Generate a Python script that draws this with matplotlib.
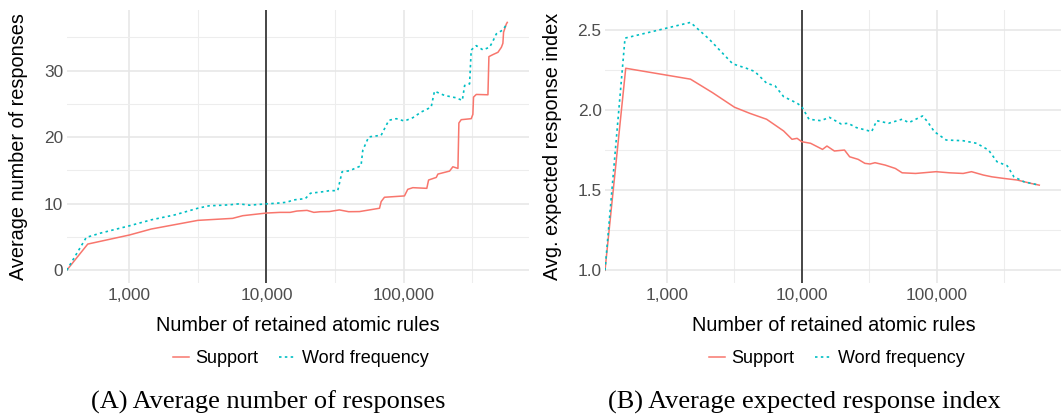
import numpy as np
import matplotlib
matplotlib.use("Agg")
import matplotlib.pyplot as plt
from matplotlib.ticker import FixedLocator, FuncFormatter, MultipleLocator, FormatStrFormatter

# -----------------------------
# DATA
# -----------------------------
# panel A: average number of responses
a_support_x = [349, 497, 1000, 1445, 3162, 5662, 6714, 10000, 12560, 14890, 16670,
               19770, 22180, 24830, 28770, 34040, 39810, 47750, 66830, 68710, 72610,
               101600, 107400, 117000, 147900, 152400, 173400, 178200, 216800, 229100,
               249500, 253500, 263600, 311900, 320600, 324300, 339600, 413000, 419800,
               448700, 488700, 517600, 530900, 537000, 562300, 571500]
a_support_y = [0, 3.94, 5.3, 6.2, 7.5, 7.8, 8.2, 8.6, 8.7, 8.7, 8.9,
               9.0, 8.7, 8.8, 8.82, 9.07, 8.8, 8.82, 9.32, 10.32, 10.97,
               11.17, 12.16, 12.41, 12.31, 13.56, 13.95, 14.45, 14.9, 15.55,
               15.3, 22.12, 22.62, 22.77, 23.42, 26.01, 26.41, 26.36, 32.09,
               32.39, 32.74, 33.49, 34.09, 35.74, 36.98, 37.23]

a_wordfreq_x = [349, 485, 617, 1000, 1445, 2153, 3170, 3802, 5346, 6310, 7534, 10000,
                11860, 14060, 15780, 19230, 20940, 26300, 28770, 33110, 35650, 40360,
                48980, 50470, 55720, 68710, 78160, 88510, 101600, 117000, 134600,
                159200, 168300, 199100, 242700, 268500, 279300, 303400, 311900,
                339600, 379300, 424600, 448700, 475300, 530900, 571500]
a_wordfreq_y = [0, 4.94, 5.59, 6.68, 7.58, 8.33, 9.33, 9.68, 9.83, 9.98, 9.78, 9.98,
                10.07, 10.22, 10.57, 10.77, 11.57, 11.82, 11.96, 11.96, 14.8, 14.95,
                15.7, 18.04, 20.03, 20.28, 22.53, 22.77, 22.42, 22.92, 23.77,
                24.51, 26.91, 26.26, 25.9, 25.51, 27.76, 28.0, 33.09,
                33.74, 33.1, 33.5, 34.4, 35.5, 36.1, 37.1]

# panel B: average expected response index
b_support_x = [349, 497, 1500, 2183, 3177, 4121, 5495, 7345, 8472, 9247, 10000, 11640,
               14260, 15380, 17460, 20750, 22650, 26180, 29380, 32060, 34910, 41590,
               49430, 55460, 69820, 98850, 124500, 157000, 181100, 221800, 256400,
               314100, 395400, 498900, 575400]
b_support_y = [1.0, 2.26, 2.192, 2.108, 2.017, 1.979, 1.942, 1.869, 1.817, 1.823, 1.802, 1.792,
               1.754, 1.775, 1.744, 1.75, 1.708, 1.692, 1.667, 1.663, 1.671, 1.656,
               1.635, 1.608, 1.604, 1.615, 1.608, 1.604, 1.615, 1.594, 1.583,
               1.573, 1.563, 1.542, 1.531]

b_wordfreq_x = [349, 491, 1500, 2061, 3083, 3890, 4487, 5495, 6353, 7345, 9247, 10000,
                11320, 13870, 16030, 19590, 22030, 25410, 32960, 35970, 44060, 55460,
                62230, 78520, 85510, 95940, 117500, 157000, 197700, 242100, 279900,
                332700, 373300, 443600, 575400]
b_wordfreq_y = [1.0, 2.448, 2.546, 2.442, 2.2875, 2.26, 2.24, 2.167, 2.15, 2.083, 2.042, 2.021,
                1.942, 1.933, 1.954, 1.9125, 1.917, 1.89, 1.865, 1.933, 1.917, 1.942,
                1.921, 1.9625, 1.927, 1.865, 1.8125, 1.808, 1.792, 1.75, 1.677,
                1.652, 1.583, 1.552, 1.531]

x_major = [1000, 10000, 100000]
x_minor = [3162, 31623, 316228]
cutoff = 10000

series_labels = ["Support", "Word frequency"]
captions = ["(A) Average number of responses", "(B) Average expected response index"]
ylabels = ["Average number of responses", "Avg. expected response index"]
xlabel = "Number of retained atomic rules"

# -----------------------------
# STYLE
# -----------------------------
RED = "#F8766D"
CYAN = "#00BFC4"
plt.rcParams["font.family"] = ["Liberation Sans", "DejaVu Sans"]

W, H = 1063, 419
fig = plt.figure(figsize=(W / 100, H / 100), dpi=100)

# panel boxes in pixels: left, right, top, bottom
boxes = [(66.7, 529.3, 10, 282.7), (605, 1061, 10, 282.7)]
ylabel_x = [19, 552.5]
legend_cx = [300.8, 836.7]
xlabel_cx = [298, 834]
caption_cx = [268.7, 804]

panels = [
    (a_support_x, a_support_y, a_wordfreq_x, a_wordfreq_y, 10, 5, "%d"),
    (b_support_x, b_support_y, b_wordfreq_x, b_wordfreq_y, 0.5, 0.25, "%.1f"),
]

for i, (sx, sy, wx, wy, ymaj, ymin, yfmt) in enumerate(panels):
    l, r, t, b = boxes[i]
    ax = fig.add_axes([l / W, 1 - b / H, (r - l) / W, (b - t) / H])

    ax.plot(sx, sy, color=RED, lw=1.1, label=series_labels[0], zorder=3)
    ax.plot(wx, wy, color=CYAN, lw=1.2, linestyle=(0, (1.5, 2)),
            label=series_labels[1], zorder=3)
    ax.axvline(cutoff, color="#1a1a1a", lw=1.1, zorder=2)

    ax.set_xscale("log")
    lo = min(min(sx), min(wx))
    hi = max(max(sx), max(wx))
    span = np.log10(hi) - np.log10(lo)
    ax.set_xlim(lo, 10 ** (np.log10(hi) + 0.05 * span))
    ax.margins(y=0.05)

    ax.xaxis.set_major_locator(FixedLocator(x_major))
    ax.xaxis.set_minor_locator(FixedLocator(x_minor))
    ax.xaxis.set_major_formatter(FuncFormatter(lambda v, _: f"{int(round(v)):,}"))
    ax.xaxis.set_minor_formatter(FuncFormatter(lambda v, _: ""))
    ax.yaxis.set_major_locator(MultipleLocator(ymaj))
    ax.yaxis.set_minor_locator(MultipleLocator(ymin))
    ax.yaxis.set_major_formatter(FormatStrFormatter(yfmt))

    ax.grid(which="major", color="#E6E6E6", lw=1.1, zorder=0)
    ax.grid(which="minor", color="#EDEDED", lw=0.8, zorder=0)
    ax.set_axisbelow(True)
    for s in ax.spines.values():
        s.set_visible(False)
    ax.tick_params(which="both", length=0, labelsize=12.4, labelcolor="#4D4D4D")
    ax.tick_params(axis="x", pad=3.5)
    ax.tick_params(axis="y", pad=2.5)

    pw, ph = r - l, b - t
    ax.set_xlabel(xlabel, fontsize=14.3, color="black")
    ax.xaxis.label.set_va("center")
    ax.xaxis.set_label_coords((xlabel_cx[i] - l) / pw, (b - 325.5) / ph)
    ax.set_ylabel(ylabels[i], fontsize=14.3, color="black")
    ax.yaxis.label.set_va("center")
    ax.yaxis.set_label_coords((ylabel_x[i] - l) / pw, 0.5)

    ax.legend(loc="center", bbox_to_anchor=((legend_cx[i] - l) / pw, (b - 358.5) / ph),
              ncol=2, frameon=False, fontsize=13, handlelength=0.886,
              handletextpad=0.365, columnspacing=1.16)

    fig.text(caption_cx[i] / W, 1 - 402 / H, captions[i], ha="center", va="center",
             fontsize=19, family=["Liberation Serif", "DejaVu Serif"])

fig.savefig("out.png", dpi=100)
